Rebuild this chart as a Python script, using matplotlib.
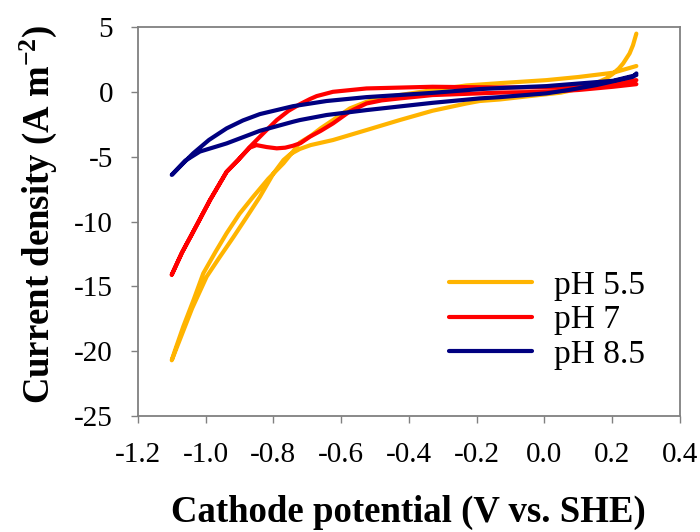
import matplotlib
matplotlib.use("Agg")
import matplotlib.pyplot as plt

plt.rcParams['font.family'] = ['Liberation Serif', 'DejaVu Serif']
plt.rcParams['mathtext.fontset'] = 'custom'
plt.rcParams['mathtext.rm'] = 'Liberation Serif'
plt.rcParams['mathtext.bf'] = 'Liberation Serif:bold'

# cyclic voltammograms, each drawn as one closed loop
ph55_x = [0.272, 0.262, 0.252, 0.233, 0.22, 0.2, 0.183, 0.15, 0.105, 0.05, -0.043, -0.131,
          -0.191, -0.23, -0.33, -0.427, -0.525, -0.624, -0.69, -0.722, -0.75, -0.77, -0.8,
          -0.84, -0.88, -0.918, -0.96, -0.997, -1.04, -1.076, -1.1,
          -1.09, -1.066, -1.035, -1.007, -0.97, -0.938, -0.9, -0.86, -0.815, -0.77, -0.745,
          -0.722, -0.69, -0.66, -0.624, -0.574, -0.525, -0.48, -0.427, -0.33, -0.23,
          -0.131, 0.006, 0.1, 0.203, 0.272]
ph55_y = [4.5, 3.6, 2.97, 2.2, 1.8, 1.35, 1.04, 0.65, 0.27, -0.05, -0.32, -0.58,
          -0.7, -0.89, -1.45, -2.17, -2.94, -3.71, -4.1, -4.4, -4.8, -5.25, -6.3,
          -8.1, -9.7, -11.2, -12.8, -14.25, -16.7, -19.1, -20.7,
          -19.9, -18.1, -16.0, -14.0, -12.3, -10.9, -9.4, -8.1, -6.7, -5.5, -4.7,
          -3.9, -3.4, -2.8, -2.17, -1.27, -0.76, -0.48, -0.24, 0.14, 0.5,
          0.68, 0.91, 1.15, 1.48, 2.0]

ph7_x = [0.272, 0.203, 0.1, 0.006, -0.131, -0.191, -0.33, -0.427, -0.48, -0.525, -0.574,
         -0.624, -0.66, -0.692, -0.72, -0.742, -0.765, -0.79, -0.82, -0.85, -0.87,
         -0.904, -0.938, -0.987, -1.037, -1.07, -1.1,
         -1.07, -1.037, -0.987, -0.938, -0.904, -0.869, -0.83, -0.79, -0.755, -0.722,
         -0.692, -0.672, -0.624, -0.525, -0.33, -0.15, 0.006, 0.1, 0.203, 0.272]
ph7_y = [0.6, 0.4, 0.15, 0.01, -0.05, -0.11, -0.24, -0.5, -0.65, -0.89, -1.5,
         -2.43, -3.0, -3.45, -3.95, -4.15, -4.3, -4.35, -4.25, -4.1, -4.3,
         -5.25, -6.16, -8.34, -10.8, -12.4, -14.1,
         -12.4, -10.8, -8.34, -6.16, -5.25, -4.23, -3.2, -2.17, -1.45, -0.95,
         -0.55, -0.32, 0.01, 0.27, 0.4, 0.35, 0.35, 0.45, 0.71, 0.91]

ph85_x = [0.272, 0.262, 0.154, 0.07, 0.006, -0.131, -0.191, -0.33, -0.525, -0.643, -0.722,
          -0.742, -0.84, -0.938, -1.017, -1.06, -1.1,
          -1.07, -1.037, -0.99, -0.938, -0.89, -0.84, -0.742, -0.643, -0.525, -0.33,
          -0.191, -0.131, 0.006, 0.203, 0.272]
ph85_y = [1.43, 1.17, 0.53, 0.14, -0.11, -0.4, -0.5, -0.84, -1.4, -1.78, -2.17,
          -2.3, -3.0, -3.97, -4.6, -5.3, -6.4,
          -5.6, -4.74, -3.7, -2.81, -2.2, -1.71, -1.1, -0.7, -0.4, -0.07,
          0.22, 0.3, 0.45, 0.86, 1.3]

series = [("pH 5.5", ph55_x, ph55_y, "#FFB400"),
          ("pH 7", ph7_x, ph7_y, "#FF0000"),
          ("pH 8.5", ph85_x, ph85_y, "#000080")]

fig = plt.figure(figsize=(7, 5.32), dpi=100)
ax = fig.add_axes([0.197, 0.218, 0.774, 0.731])

for name, xs, ys, col in series:
    ax.plot(xs, ys, color=col, lw=3, label=name,
            solid_joinstyle='round', solid_capstyle='round')

ax.set_xlim(-1.2, 0.4)
ax.set_ylim(-25, 5)
ax.set_xticks([-1.2, -1.0, -0.8, -0.6, -0.4, -0.2, 0.0, 0.2, 0.4])
ax.set_xticklabels(["-1.2", "-1.0", "-0.8", "-0.6", "-0.4", "-0.2", "0.0", "0.2", "0.4"])
ax.set_yticks([-25, -20, -15, -10, -5, 0, 5])
ax.set_yticklabels(["-25", "-20", "-15", "-10", "-5", "0", "5"])
ax.tick_params(labelsize=21, length=5, width=1, color="#808080", direction="out")
ax.tick_params(axis="x", pad=14)
ax.tick_params(axis="y", pad=13)
for s in ax.spines.values():
    s.set_color("#808080")
    s.set_linewidth(1.3)

ax.set_xlabel("Cathode potential (V vs. SHE)", fontsize=26.5, fontweight="bold", va="center")
ax.xaxis.set_label_coords(0.5, -0.247)
ax.set_ylabel(r"Current density (A m$\mathbf{^{-2}}$)", fontsize=26.5, fontweight="bold", va="center")
ax.yaxis.set_label_coords(-0.1845, 0.519)

ax.legend(loc="upper left", bbox_to_anchor=(0.574, 0.375), frameon=False, fontsize=24,
          handlelength=2.5, handletextpad=0.64, labelspacing=0.12,
          borderpad=0, borderaxespad=0)

fig.savefig("out.png", dpi=100)
